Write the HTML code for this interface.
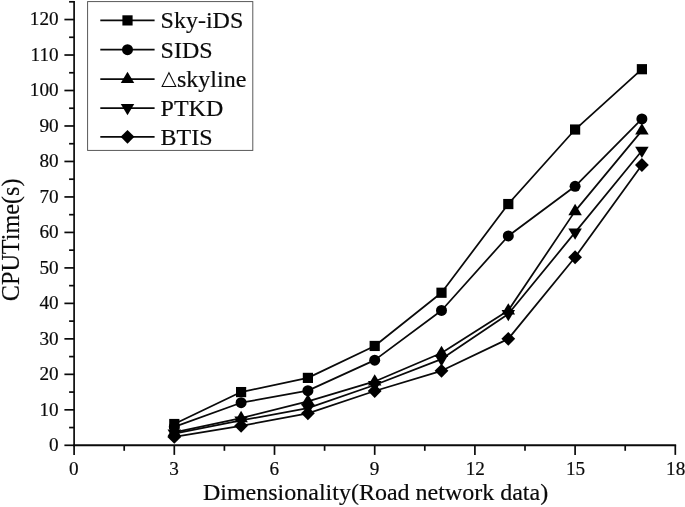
<!DOCTYPE html>
<html><head><meta charset="utf-8"><title>CPU time vs dimensionality</title><style>
html,body{margin:0;padding:0;background:#fff;}
svg{display:block;will-change:transform}
text{font-family:"Liberation Serif",serif;fill:#0a0a0a;stroke:#0a0a0a;stroke-width:0.18px;}
</style></head><body>
<svg width="685" height="507" viewBox="0 0 685 507">
<rect width="685" height="507" fill="#fff"/>

<g stroke="#0a0a0a" stroke-width="1.7" fill="none">
<line x1="74.1" y1="0.95" x2="74.1" y2="446.15000000000003"/>
<line x1="73.25" y1="445.3" x2="676.15" y2="445.3" stroke-width="1.9"/>
<line x1="64.40" y1="445.30" x2="74.1" y2="445.30"/>
<line x1="64.40" y1="409.82" x2="74.1" y2="409.82"/>
<line x1="64.40" y1="374.34" x2="74.1" y2="374.34"/>
<line x1="64.40" y1="338.86" x2="74.1" y2="338.86"/>
<line x1="64.40" y1="303.38" x2="74.1" y2="303.38"/>
<line x1="64.40" y1="267.90" x2="74.1" y2="267.90"/>
<line x1="64.40" y1="232.42" x2="74.1" y2="232.42"/>
<line x1="64.40" y1="196.94" x2="74.1" y2="196.94"/>
<line x1="64.40" y1="161.46" x2="74.1" y2="161.46"/>
<line x1="64.40" y1="125.98" x2="74.1" y2="125.98"/>
<line x1="64.40" y1="90.50" x2="74.1" y2="90.50"/>
<line x1="64.40" y1="55.02" x2="74.1" y2="55.02"/>
<line x1="64.40" y1="19.54" x2="74.1" y2="19.54"/>
<line x1="69.10" y1="427.56" x2="74.1" y2="427.56"/>
<line x1="69.10" y1="392.08" x2="74.1" y2="392.08"/>
<line x1="69.10" y1="356.60" x2="74.1" y2="356.60"/>
<line x1="69.10" y1="321.12" x2="74.1" y2="321.12"/>
<line x1="69.10" y1="285.64" x2="74.1" y2="285.64"/>
<line x1="69.10" y1="250.16" x2="74.1" y2="250.16"/>
<line x1="69.10" y1="214.68" x2="74.1" y2="214.68"/>
<line x1="69.10" y1="179.20" x2="74.1" y2="179.20"/>
<line x1="69.10" y1="143.72" x2="74.1" y2="143.72"/>
<line x1="69.10" y1="108.24" x2="74.1" y2="108.24"/>
<line x1="69.10" y1="72.76" x2="74.1" y2="72.76"/>
<line x1="69.10" y1="37.28" x2="74.1" y2="37.28"/>
<line x1="69.10" y1="1.80" x2="74.1" y2="1.80"/>
<line x1="74.10" y1="445.3" x2="74.10" y2="454.90000000000003"/>
<line x1="174.30" y1="445.3" x2="174.30" y2="454.90000000000003"/>
<line x1="274.50" y1="445.3" x2="274.50" y2="454.90000000000003"/>
<line x1="374.70" y1="445.3" x2="374.70" y2="454.90000000000003"/>
<line x1="474.90" y1="445.3" x2="474.90" y2="454.90000000000003"/>
<line x1="575.10" y1="445.3" x2="575.10" y2="454.90000000000003"/>
<line x1="675.30" y1="445.3" x2="675.30" y2="454.90000000000003"/>
<line x1="124.20" y1="445.3" x2="124.20" y2="450.8"/>
<line x1="224.40" y1="445.3" x2="224.40" y2="450.8"/>
<line x1="324.60" y1="445.3" x2="324.60" y2="450.8"/>
<line x1="424.80" y1="445.3" x2="424.80" y2="450.8"/>
<line x1="525.00" y1="445.3" x2="525.00" y2="450.8"/>
<line x1="625.20" y1="445.3" x2="625.20" y2="450.8"/>
</g>
<text x="58.6" y="451.00" font-size="19.2" text-anchor="end">0</text>
<text x="58.6" y="415.52" font-size="19.2" text-anchor="end">10</text>
<text x="58.6" y="380.04" font-size="19.2" text-anchor="end">20</text>
<text x="58.6" y="344.56" font-size="19.2" text-anchor="end">30</text>
<text x="58.6" y="309.08" font-size="19.2" text-anchor="end">40</text>
<text x="58.6" y="273.60" font-size="19.2" text-anchor="end">50</text>
<text x="58.6" y="238.12" font-size="19.2" text-anchor="end">60</text>
<text x="58.6" y="202.64" font-size="19.2" text-anchor="end">70</text>
<text x="58.6" y="167.16" font-size="19.2" text-anchor="end">80</text>
<text x="58.6" y="131.68" font-size="19.2" text-anchor="end">90</text>
<text x="58.6" y="96.20" font-size="19.2" text-anchor="end">100</text>
<text x="58.6" y="60.72" font-size="19.2" text-anchor="end">110</text>
<text x="58.6" y="25.24" font-size="19.2" text-anchor="end">120</text>
<text x="73.90" y="475.4" font-size="19.2" text-anchor="middle">0</text>
<text x="174.10" y="475.4" font-size="19.2" text-anchor="middle">3</text>
<text x="274.30" y="475.4" font-size="19.2" text-anchor="middle">6</text>
<text x="374.50" y="475.4" font-size="19.2" text-anchor="middle">9</text>
<text x="475.30" y="475.4" font-size="19.2" text-anchor="middle">12</text>
<text x="575.50" y="475.4" font-size="19.2" text-anchor="middle">15</text>
<text x="675.70" y="475.4" font-size="19.2" text-anchor="middle">18</text>
<text x="375.55" y="500.4" font-size="24.0" text-anchor="middle">Dimensionality(Road network data)</text>
<text transform="translate(19.0,239.8) rotate(-90)" font-size="24.2" text-anchor="middle">CPUTime(s)</text>
<polyline points="174.30,424.01 241.10,392.08 307.90,377.89 374.70,345.96 441.50,292.74 508.30,204.04 575.10,129.53 641.90,69.21" fill="none" stroke="#0a0a0a" stroke-width="1.75" stroke-linejoin="round"/>
<polyline points="174.30,426.85 241.10,402.72 307.90,390.66 374.70,360.15 441.50,310.48 508.30,235.97 575.10,186.30 641.90,118.88" fill="none" stroke="#0a0a0a" stroke-width="1.75" stroke-linejoin="round"/>
<polyline points="174.30,432.35 241.10,418.16 307.90,401.30 374.70,381.44 441.50,353.05 508.30,310.48 575.10,211.13 641.90,130.59" fill="none" stroke="#0a0a0a" stroke-width="1.75" stroke-linejoin="round"/>
<polyline points="174.30,433.59 241.10,420.46 307.90,408.05 374.70,384.98 441.50,359.08 508.30,314.02 575.10,232.42 641.90,150.82" fill="none" stroke="#0a0a0a" stroke-width="1.75" stroke-linejoin="round"/>
<polyline points="174.30,436.96 241.10,425.79 307.90,413.37 374.70,391.02 441.50,370.79 508.30,338.86 575.10,257.26 641.90,165.01" fill="none" stroke="#0a0a0a" stroke-width="1.75" stroke-linejoin="round"/>
<g fill="#000">
<rect x="169.20" y="418.91" width="10.2" height="10.2"/>
<rect x="236.00" y="386.98" width="10.2" height="10.2"/>
<rect x="302.80" y="372.79" width="10.2" height="10.2"/>
<rect x="369.60" y="340.86" width="10.2" height="10.2"/>
<rect x="436.40" y="287.64" width="10.2" height="10.2"/>
<rect x="503.20" y="198.94" width="10.2" height="10.2"/>
<rect x="570.00" y="124.43" width="10.2" height="10.2"/>
<rect x="636.80" y="64.11" width="10.2" height="10.2"/>
<circle cx="174.30" cy="426.85" r="5.5"/>
<circle cx="241.10" cy="402.72" r="5.5"/>
<circle cx="307.90" cy="390.66" r="5.5"/>
<circle cx="374.70" cy="360.15" r="5.5"/>
<circle cx="441.50" cy="310.48" r="5.5"/>
<circle cx="508.30" cy="235.97" r="5.5"/>
<circle cx="575.10" cy="186.30" r="5.5"/>
<circle cx="641.90" cy="118.88" r="5.5"/>
<polygon points="167.55,436.35 181.05,436.35 174.30,425.05"/>
<polygon points="234.35,422.16 247.85,422.16 241.10,410.86"/>
<polygon points="301.15,405.30 314.65,405.30 307.90,394.00"/>
<polygon points="367.95,385.44 381.45,385.44 374.70,374.14"/>
<polygon points="434.75,357.05 448.25,357.05 441.50,345.75"/>
<polygon points="501.55,314.48 515.05,314.48 508.30,303.18"/>
<polygon points="568.35,215.13 581.85,215.13 575.10,203.83"/>
<polygon points="635.15,134.59 648.65,134.59 641.90,123.29"/>
<polygon points="167.55,429.59 181.05,429.59 174.30,440.89"/>
<polygon points="234.35,416.46 247.85,416.46 241.10,427.76"/>
<polygon points="301.15,404.05 314.65,404.05 307.90,415.35"/>
<polygon points="367.95,380.98 381.45,380.98 374.70,392.28"/>
<polygon points="434.75,355.08 448.25,355.08 441.50,366.38"/>
<polygon points="501.55,310.02 515.05,310.02 508.30,321.32"/>
<polygon points="568.35,228.42 581.85,228.42 575.10,239.72"/>
<polygon points="635.15,146.82 648.65,146.82 641.90,158.12"/>
<polygon points="167.40,436.96 174.30,430.06 181.20,436.96 174.30,443.86"/>
<polygon points="234.20,425.79 241.10,418.89 248.00,425.79 241.10,432.69"/>
<polygon points="301.00,413.37 307.90,406.47 314.80,413.37 307.90,420.27"/>
<polygon points="367.80,391.02 374.70,384.12 381.60,391.02 374.70,397.92"/>
<polygon points="434.60,370.79 441.50,363.89 448.40,370.79 441.50,377.69"/>
<polygon points="501.40,338.86 508.30,331.96 515.20,338.86 508.30,345.76"/>
<polygon points="568.20,257.26 575.10,250.36 582.00,257.26 575.10,264.16"/>
<polygon points="635.00,165.01 641.90,158.11 648.80,165.01 641.90,171.91"/>
</g>
<rect x="87.6" y="1.6" width="165.2" height="148.8" fill="#fff" stroke="#505050" stroke-width="0.95"/>
<line x1="100.3" y1="20.4" x2="154.6" y2="20.4" stroke="#0a0a0a" stroke-width="1.75"/>
<g fill="#000"><rect x="122.40" y="15.30" width="10.2" height="10.2"/></g>
<text x="160.6" y="28.4" font-size="24.0">Sky-iDS</text>
<line x1="100.3" y1="49.7" x2="154.6" y2="49.7" stroke="#0a0a0a" stroke-width="1.75"/>
<g fill="#000"><circle cx="127.50" cy="49.70" r="5.5"/></g>
<text x="160.6" y="57.7" font-size="24.0">SIDS</text>
<line x1="100.3" y1="79.0" x2="154.6" y2="79.0" stroke="#0a0a0a" stroke-width="1.75"/>
<g fill="#000"><polygon points="120.75,83.00 134.25,83.00 127.50,71.70"/></g>
<polygon points="162.1,86.5 168.95,72.7 175.8,86.5" fill="none" stroke="#0a0a0a" stroke-width="1.05"/>
<text x="177.0" y="87.0" font-size="24.0">skyline</text>
<line x1="100.3" y1="108.0" x2="154.6" y2="108.0" stroke="#0a0a0a" stroke-width="1.75"/>
<g fill="#000"><polygon points="120.75,104.00 134.25,104.00 127.50,115.30"/></g>
<text x="160.6" y="116.0" font-size="24.0">PTKD</text>
<line x1="100.3" y1="136.8" x2="154.6" y2="136.8" stroke="#0a0a0a" stroke-width="1.75"/>
<g fill="#000"><polygon points="120.60,136.80 127.50,129.90 134.40,136.80 127.50,143.70"/></g>
<text x="160.6" y="144.8" font-size="24.0">BTIS</text>
</svg></body></html>
